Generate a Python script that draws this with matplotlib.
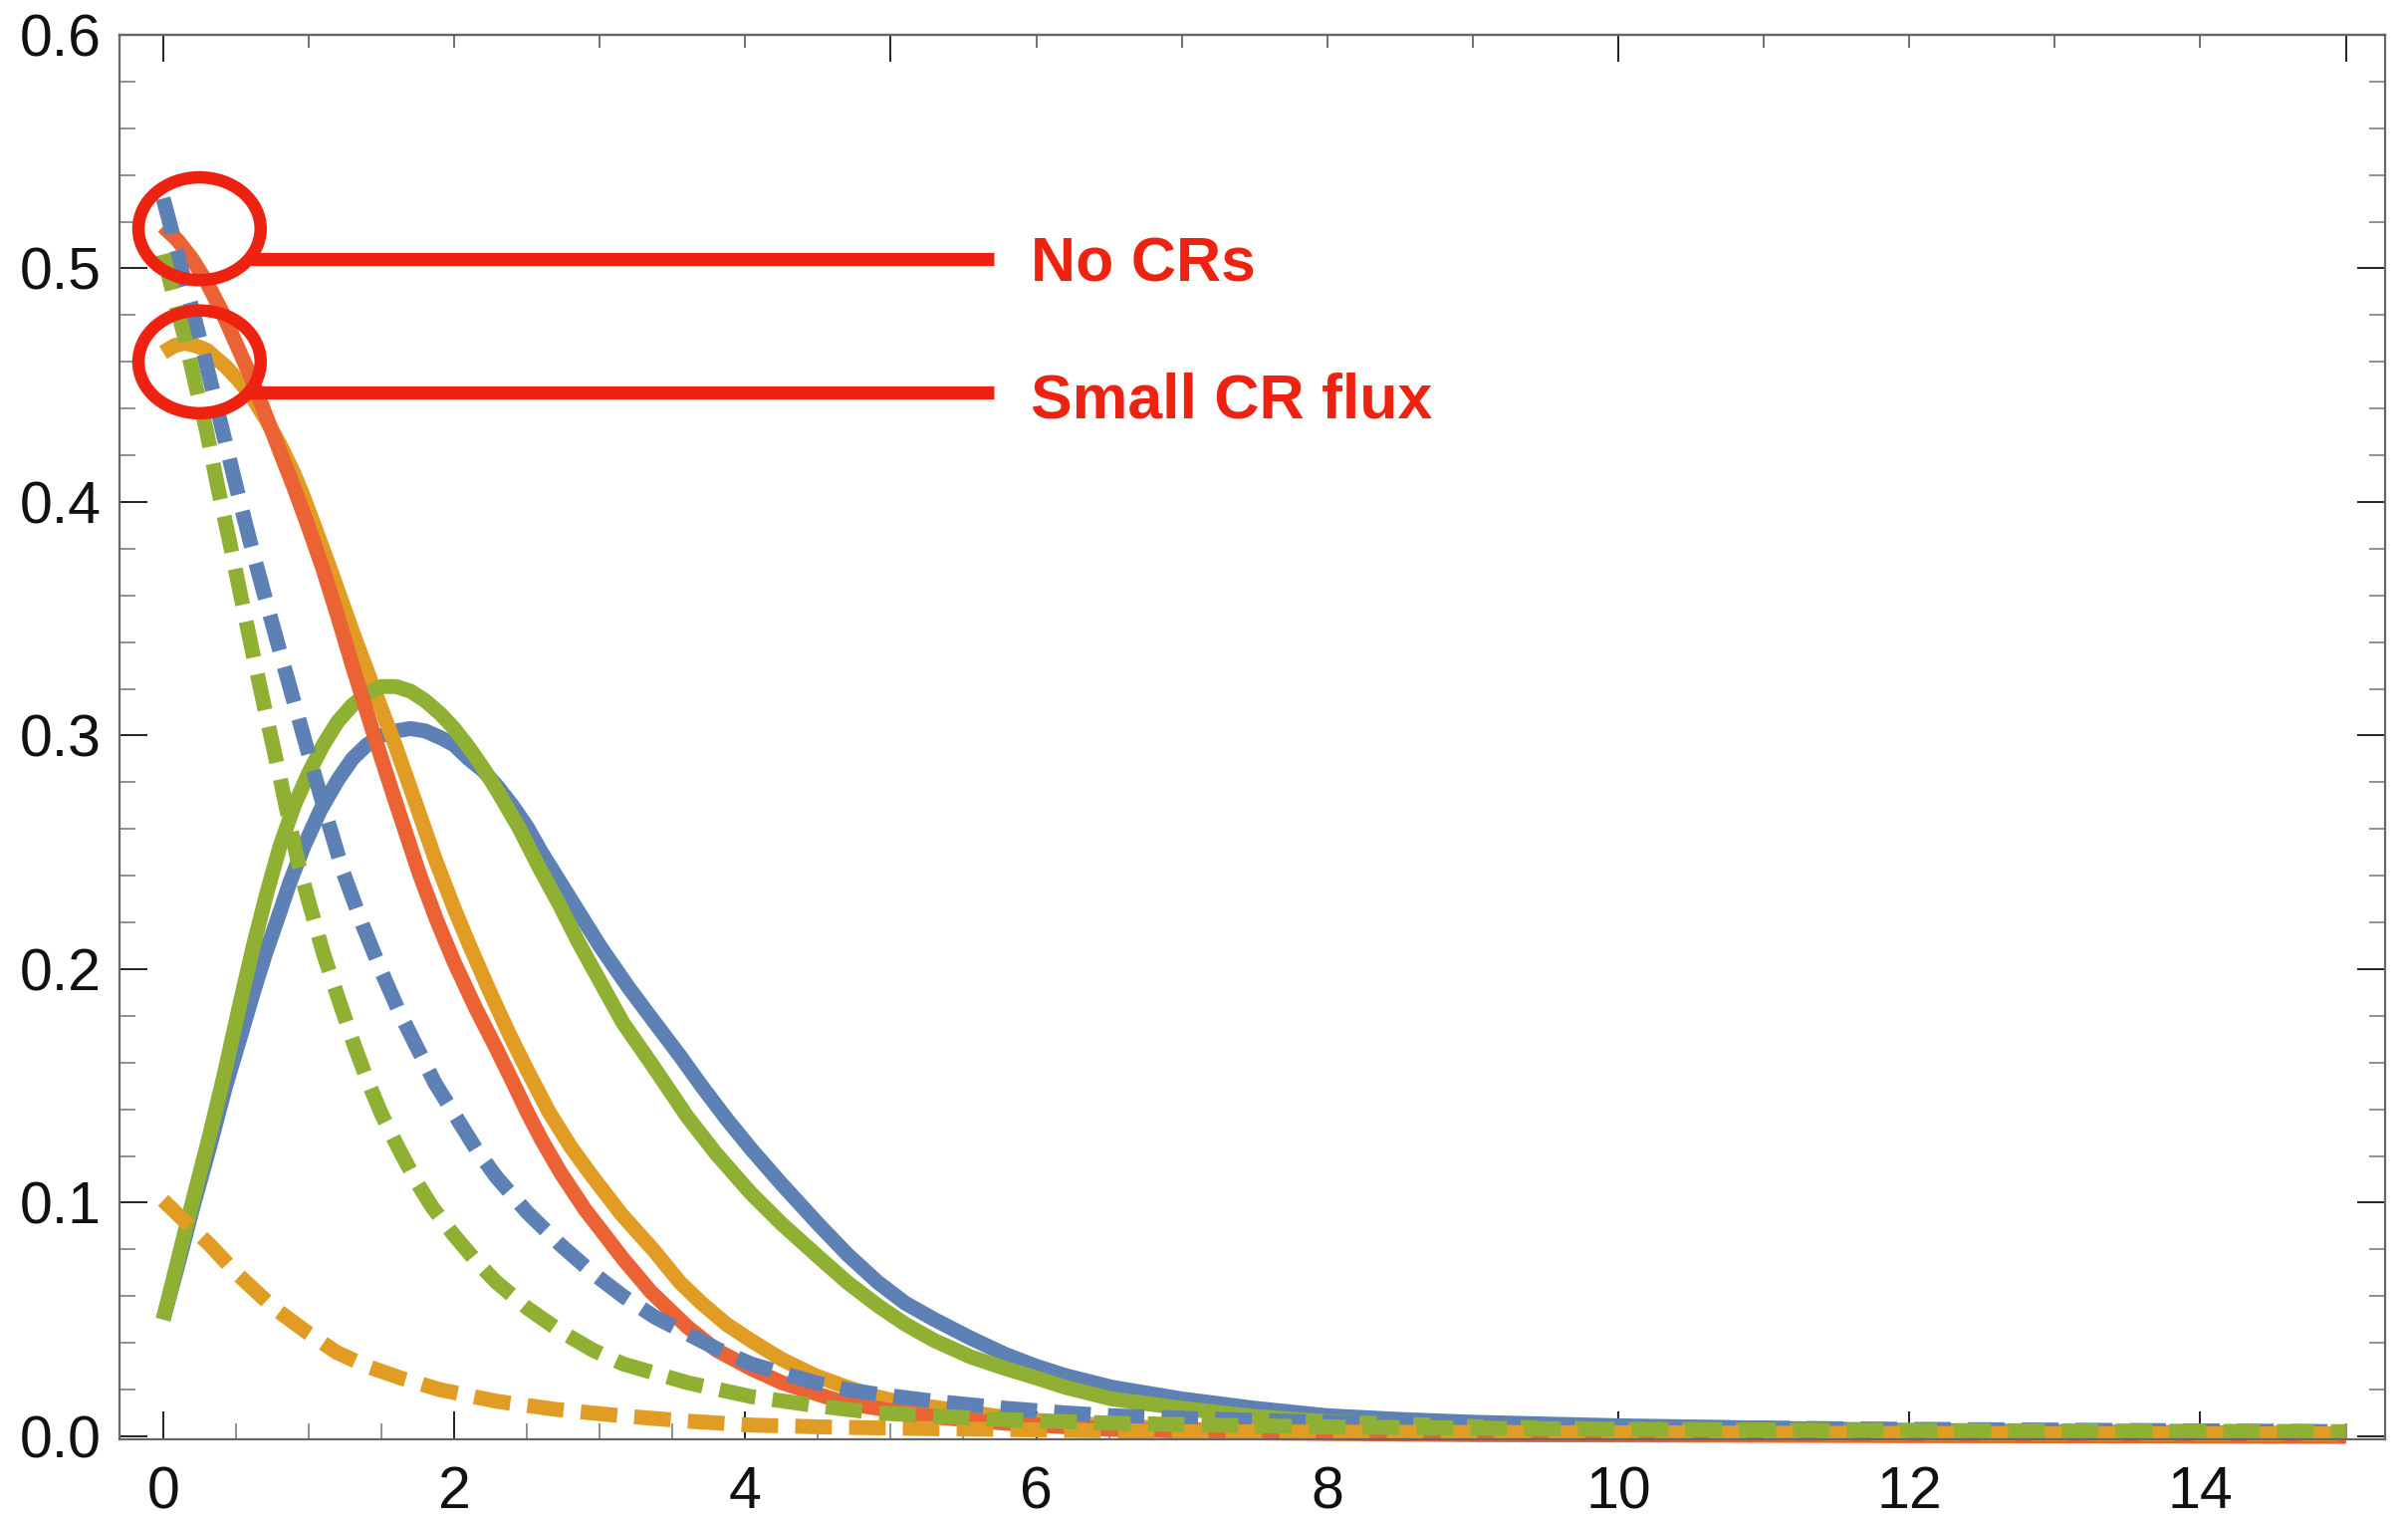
import matplotlib
matplotlib.use('Agg')
import matplotlib.pyplot as plt
from matplotlib.patches import Ellipse
from matplotlib.ticker import MultipleLocator, FixedLocator

plt.rcParams['font.family'] = ['Liberation Sans', 'DejaVu Sans']

# Mathematica default palette
blue = '#5E81B5'
orange = '#E19C24'
green = '#8FB032'
red = '#EB6235'
note_red = '#EE2211'

# --- solid curves ---
blue_x = [0.0, 0.1, 0.2, 0.32, 0.43, 0.54, 0.62, 0.7, 0.8, 0.87, 0.97, 1.08, 1.2, 1.3, 1.4, 1.5, 1.6,
          1.7, 1.8, 1.91, 2.0, 2.1, 2.2, 2.3, 2.4, 2.5, 2.6, 2.68, 2.84, 3.0, 3.2, 3.38, 3.55, 3.7,
          3.87, 4.04, 4.25, 4.5, 4.7, 4.91, 5.1, 5.3, 5.55, 5.79, 6.0, 6.2, 6.52, 7.0, 7.5, 8.0,
          8.5, 9.0, 10.0, 11.0, 12.0, 15.0]
blue_y = [0.050, 0.073, 0.097, 0.124, 0.150, 0.173, 0.190, 0.206, 0.224, 0.237, 0.253, 0.268, 0.281,
          0.290, 0.296, 0.300, 0.302, 0.303, 0.302, 0.299, 0.296, 0.290, 0.285, 0.278, 0.270, 0.261,
          0.250, 0.242, 0.226, 0.210, 0.192, 0.177, 0.163, 0.150, 0.136, 0.123, 0.108, 0.091, 0.078,
          0.066, 0.057, 0.050, 0.042, 0.035, 0.030, 0.026, 0.021, 0.016, 0.012, 0.0088, 0.0072,
          0.006, 0.0045, 0.0035, 0.0025, 0.001]

green_x = [0.0, 0.1, 0.2, 0.32, 0.42, 0.52, 0.62, 0.71, 0.8, 0.9, 1.0, 1.1, 1.2, 1.3, 1.4, 1.5, 1.6,
           1.7, 1.8, 1.91, 2.0, 2.1, 2.2, 2.3, 2.45, 2.58, 2.72, 2.85, 3.0, 3.16, 3.35, 3.6, 3.8,
           4.04, 4.25, 4.5, 4.7, 4.91, 5.1, 5.3, 5.55, 5.79, 6.0, 6.2, 6.52, 7.0, 7.5, 8.0, 9.0,
           10.0, 12.0, 15.0]
green_y = [0.050, 0.075, 0.100, 0.129, 0.155, 0.183, 0.210, 0.232, 0.252, 0.270, 0.284, 0.296, 0.306,
           0.313, 0.318, 0.321, 0.321, 0.319, 0.315, 0.309, 0.303, 0.295, 0.286, 0.276, 0.260, 0.244,
           0.228, 0.212, 0.195, 0.177, 0.160, 0.137, 0.121, 0.104, 0.091, 0.077, 0.066, 0.056, 0.048,
           0.041, 0.034, 0.029, 0.025, 0.021, 0.016, 0.012, 0.0085, 0.0062, 0.0042, 0.003, 0.002, 0.001]

orange_x = [0.0, 0.08, 0.15, 0.22, 0.3, 0.43, 0.52, 0.61, 0.7, 0.8, 0.9, 0.96, 1.05, 1.15, 1.31,
            1.46, 1.6, 1.73, 1.87, 2.0, 2.1, 2.24, 2.38, 2.5, 2.65, 2.8, 2.94, 3.15, 3.38, 3.55,
            3.7, 3.87, 4.04, 4.25, 4.48, 4.7, 4.9, 5.1, 5.35, 5.8, 6.22, 7.0, 8.0, 10.0, 15.0]
orange_y = [0.464, 0.467, 0.468, 0.467, 0.465, 0.458, 0.452, 0.445, 0.436, 0.425, 0.412, 0.403, 0.388,
            0.371, 0.343, 0.318, 0.295, 0.272, 0.247, 0.226, 0.211, 0.191, 0.172, 0.157, 0.139, 0.124,
            0.112, 0.095, 0.079, 0.066, 0.057, 0.048, 0.041, 0.033, 0.026, 0.021, 0.017, 0.014, 0.012,
            0.008, 0.0056, 0.003, 0.0018, 0.0008, 0.0]

red_x = [0.0, 0.1, 0.2, 0.3, 0.4, 0.5, 0.6, 0.7, 0.8, 0.9, 1.0, 1.1, 1.2, 1.31, 1.45, 1.59, 1.76,
         1.88, 2.0, 2.15, 2.29, 2.4, 2.5, 2.6, 2.73, 2.9, 3.0, 3.16, 3.35, 3.6, 3.8, 4.04, 4.25,
         4.5, 4.7, 4.91, 5.1, 5.35, 5.79, 6.5, 7.5, 9.0, 12.0, 15.0]
red_y = [0.518, 0.512, 0.504, 0.494, 0.482, 0.468, 0.454, 0.438, 0.422, 0.406, 0.389, 0.371, 0.351,
         0.328, 0.300, 0.273, 0.241, 0.221, 0.203, 0.183, 0.166, 0.152, 0.139, 0.127, 0.113, 0.097,
         0.089, 0.076, 0.062, 0.047, 0.037, 0.029, 0.023, 0.018, 0.014, 0.012, 0.010, 0.008, 0.0056,
         0.003, 0.0015, 0.0007, 0.0003, 0.0]

# --- dashed curves ---
blue_d_x = [0.0, 0.06, 0.12, 0.19, 0.26, 0.34, 0.43, 0.52, 0.61, 0.71, 0.82, 0.91, 1.0, 1.12, 1.24,
            1.37, 1.5, 1.62, 1.74, 1.87, 2.0, 2.15, 2.29, 2.5, 2.73, 2.95, 3.16, 3.38, 3.6, 3.82,
            4.04, 4.26, 4.48, 4.7, 4.91, 5.3, 5.79, 6.2, 6.52, 7.2, 8.0, 9.0, 10.0, 12.0, 15.0]
blue_d_y = [0.530, 0.516, 0.501, 0.485, 0.468, 0.448, 0.425, 0.402, 0.380, 0.357, 0.332, 0.312, 0.292,
            0.266, 0.241, 0.219, 0.199, 0.182, 0.167, 0.151, 0.138, 0.123, 0.111, 0.096, 0.082, 0.070,
            0.060, 0.051, 0.044, 0.037, 0.031, 0.027, 0.023, 0.020, 0.018, 0.015, 0.012, 0.010, 0.0088,
            0.0073, 0.006, 0.005, 0.004, 0.003, 0.002]

green_d_x = [0.0, 0.07, 0.15, 0.22, 0.3, 0.37, 0.45, 0.52, 0.6, 0.7, 0.8, 0.87, 0.93, 1.0, 1.1, 1.19,
             1.31, 1.4, 1.5, 1.62, 1.74, 1.85, 2.0, 2.15, 2.29, 2.5, 2.73, 2.95, 3.16, 3.38, 3.6,
             3.82, 4.04, 4.5, 4.91, 5.35, 5.79, 6.52, 7.2, 8.0, 10.0, 12.0, 15.0]
green_d_y = [0.506, 0.489, 0.470, 0.451, 0.430, 0.408, 0.385, 0.364, 0.340, 0.311, 0.283, 0.262, 0.245,
             0.229, 0.207, 0.190, 0.168, 0.153, 0.138, 0.123, 0.109, 0.098, 0.086, 0.075, 0.066, 0.055,
             0.045, 0.037, 0.031, 0.027, 0.023, 0.020, 0.017, 0.013, 0.010, 0.0085, 0.0071, 0.0056,
             0.0048, 0.004, 0.003, 0.0025, 0.002]

orange_d_x = [0.0, 0.15, 0.32, 0.5, 0.76, 1.0, 1.19, 1.4, 1.63, 1.9, 2.29, 2.7, 3.16, 3.6, 4.04,
              4.6, 5.35, 6.2, 7.0, 8.5, 10.0, 12.0, 15.0]
orange_d_y = [0.101, 0.092, 0.082, 0.070, 0.055, 0.044, 0.036, 0.030, 0.025, 0.020, 0.015, 0.0115,
              0.0087, 0.0065, 0.0048, 0.0039, 0.0032, 0.0026, 0.002, 0.0017, 0.0015, 0.0012, 0.001]

# annotation
circle_x = 0.25
circle_y = [0.517, 0.460]
pointer_y = [0.504, 0.447]
pointer_x = [0.57, 5.71]
notes = ['No CRs', 'Small CR flux']
note_x = 5.96
note_base = [0.4943, 0.4359]

fig = plt.figure(figsize=(24.18, 15.24), dpi=100)
ax = fig.add_axes([120 / 2418, 1 - 1445 / 1524, 2275 / 2418, 1410 / 1524])

lw = 10.8
dash = (2.45, 1.15)
for xs, ys, c in [(blue_x, blue_y, blue), (orange_x, orange_y, orange),
                  (green_x, green_y, green), (red_x, red_y, red)]:
    ax.plot(xs, ys, color=c, lw=lw, solid_capstyle='butt', solid_joinstyle='round', clip_on=False)
for xs, ys, c in [(blue_d_x, blue_d_y, blue), (orange_d_x, orange_d_y, orange),
                  (green_d_x, green_d_y, green)]:
    ax.plot(xs, ys, color=c, lw=lw, dashes=dash, dash_capstyle='butt', clip_on=False)

# red circles, pointer lines and labels
for cy, py, txt, by in zip(circle_y, pointer_y, notes, note_base):
    ax.add_patch(Ellipse((circle_x, cy), 0.84, 0.044, fill=False, ec=note_red, lw=9, zorder=5))
    ax.plot(pointer_x, [py, py], color=note_red, lw=9.5, solid_capstyle='butt', zorder=5)
    ax.text(note_x, by, txt, color=note_red, fontsize=45, fontweight='bold', va='baseline', ha='left')

ax.set_xlim(-0.3, 15.27)
ax.set_ylim(-0.0013, 0.6)

ax.xaxis.set_major_locator(MultipleLocator(2))
ax.xaxis.set_minor_locator(MultipleLocator(0.5))
ax.yaxis.set_major_locator(MultipleLocator(0.1))
ax.yaxis.set_minor_locator(MultipleLocator(0.02))
ax.yaxis.set_major_formatter(plt.FuncFormatter(lambda v, p: f'{v:.1f}'))

ax.tick_params(which='both', direction='in', top=False, right=True, labelright=False)
ax.tick_params(which='major', length=20, width=1.3, color='#111111', labelsize=42.5, labelcolor='#111111')
ax.tick_params(which='minor', length=11.5, width=1.3, color='#888888')
ax.tick_params(axis='x', which='major', pad=19)
ax.tick_params(axis='y', which='major', pad=13)

top = ax.secondary_xaxis('top')
top.xaxis.set_major_locator(FixedLocator([0, 5, 10, 15]))
top.xaxis.set_minor_locator(MultipleLocator(1))
top.tick_params(which='both', direction='in', labeltop=False)
top.tick_params(which='major', length=19.5, width=1.3, color='#111111')
top.tick_params(which='minor', length=9.5, width=1.3, color='#666666')
top.spines['top'].set_color('#666666')
top.spines['top'].set_linewidth(1.6)

for s in ax.spines.values():
    s.set_color('#666666')
    s.set_linewidth(1.6)

fig.savefig('out.png', dpi=100)
